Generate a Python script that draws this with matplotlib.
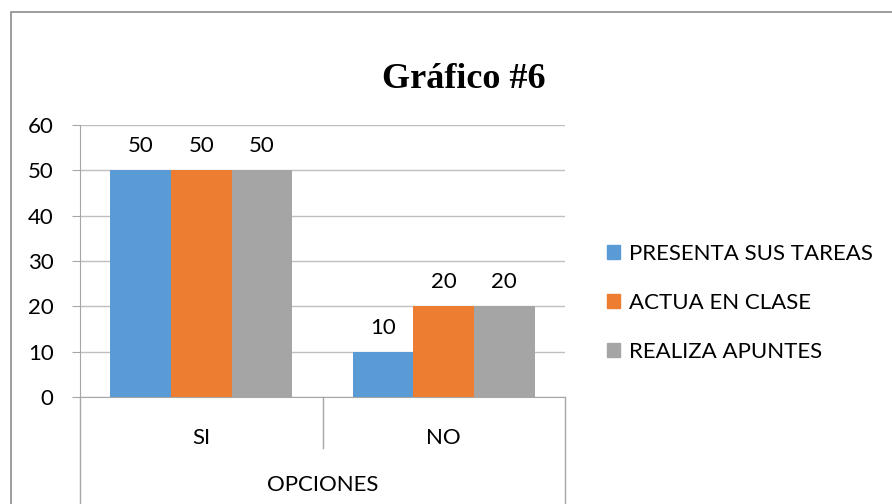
import numpy as np
import matplotlib
matplotlib.use("Agg")
import matplotlib.pyplot as plt
from matplotlib.patches import Patch, Rectangle
from matplotlib import transforms

# data
categories = ["SI", "NO"]
series_names = ["PRESENTA SUS TAREAS", "ACTUA EN CLASE", "REALIZA APUNTES"]
presenta = [50, 10]
actua = [50, 20]
realiza = [50, 20]
y_ticks = [0, 10, 20, 30, 40, 50, 60]

colors = ["#5B9BD5", "#ED7D31", "#A5A5A5"]
grid_c = "#BFBFBF"
axis_c = "#A6A6A6"
fs = 16

plt.rcParams["font.family"] = ["Lato", "DejaVu Sans"]

W, H = 892, 504
fig = plt.figure(figsize=(W / 100, H / 100), dpi=100)
ax = fig.add_axes([80 / W, 1 - 397 / H, (565 - 80) / W, (397 - 125) / H])

x = np.arange(len(categories))
width = 0.25
for i, (vals, name) in enumerate(zip([presenta, actua, realiza], series_names)):
    bars = ax.bar(x + (i - 1) * width, vals, width, color=colors[i],
                  linewidth=0, label=name, zorder=3)
    ax.bar_label(bars, padding=10, fontsize=fs, color="#000000")

ax.set_xlim(-0.5, 1.5)
ax.set_ylim(0, 60)
ax.set_yticks(y_ticks)
ax.tick_params(axis="y", length=6, color=axis_c, labelsize=fs, pad=13)
ax.set_xticks(x)
ax.set_xticklabels(categories)
ax.tick_params(axis="x", length=0, labelsize=fs, pad=22)
ax.grid(axis="y", color=grid_c, lw=1, zorder=0)

for s in ["top", "right"]:
    ax.spines[s].set_visible(False)
ax.spines["left"].set_color(axis_c)
ax.spines["bottom"].set_color(axis_c)

# multi-level category axis lines
trans = transforms.blended_transform_factory(ax.transData, ax.transAxes)
px = 1 / 272
ax.plot([0.5, 0.5], [0, -51 * px], color=axis_c, lw=1, transform=trans, clip_on=False)
ax.plot([-0.5, -0.5], [0, -110 * px], color=axis_c, lw=1, transform=trans, clip_on=False)
ax.plot([1.5, 1.5], [0, -110 * px], color=axis_c, lw=1, transform=trans, clip_on=False)
ax.text(0.5, -88 * px, "OPCIONES", transform=trans, ha="center", va="center", fontsize=fs)

# title
fig.text(464 / W, 1 - 79 / H, "Gráfico #6", ha="center", va="center",
         fontsize=26, fontweight="bold", family="Liberation Serif")

# legend
handles = [Patch(color=c, label=n) for c, n in zip(colors, series_names)]
ax.legend(handles=handles, loc="center left", bbox_to_anchor=(607 / W, 1 - 303 / H),
          bbox_transform=fig.transFigure, frameon=False, fontsize=fs,
          handlelength=0.6, handleheight=0.6, handletextpad=0.4,
          labelspacing=1.3, borderpad=0, borderaxespad=0)

# chart frame
fig.patches.append(Rectangle((11 / W, -0.1), 1.2, 1 - 12 / H + 0.1, transform=fig.transFigure,
                             fill=False, edgecolor="#8C8C8C", lw=1.2))

fig.savefig("out.png", dpi=100)
